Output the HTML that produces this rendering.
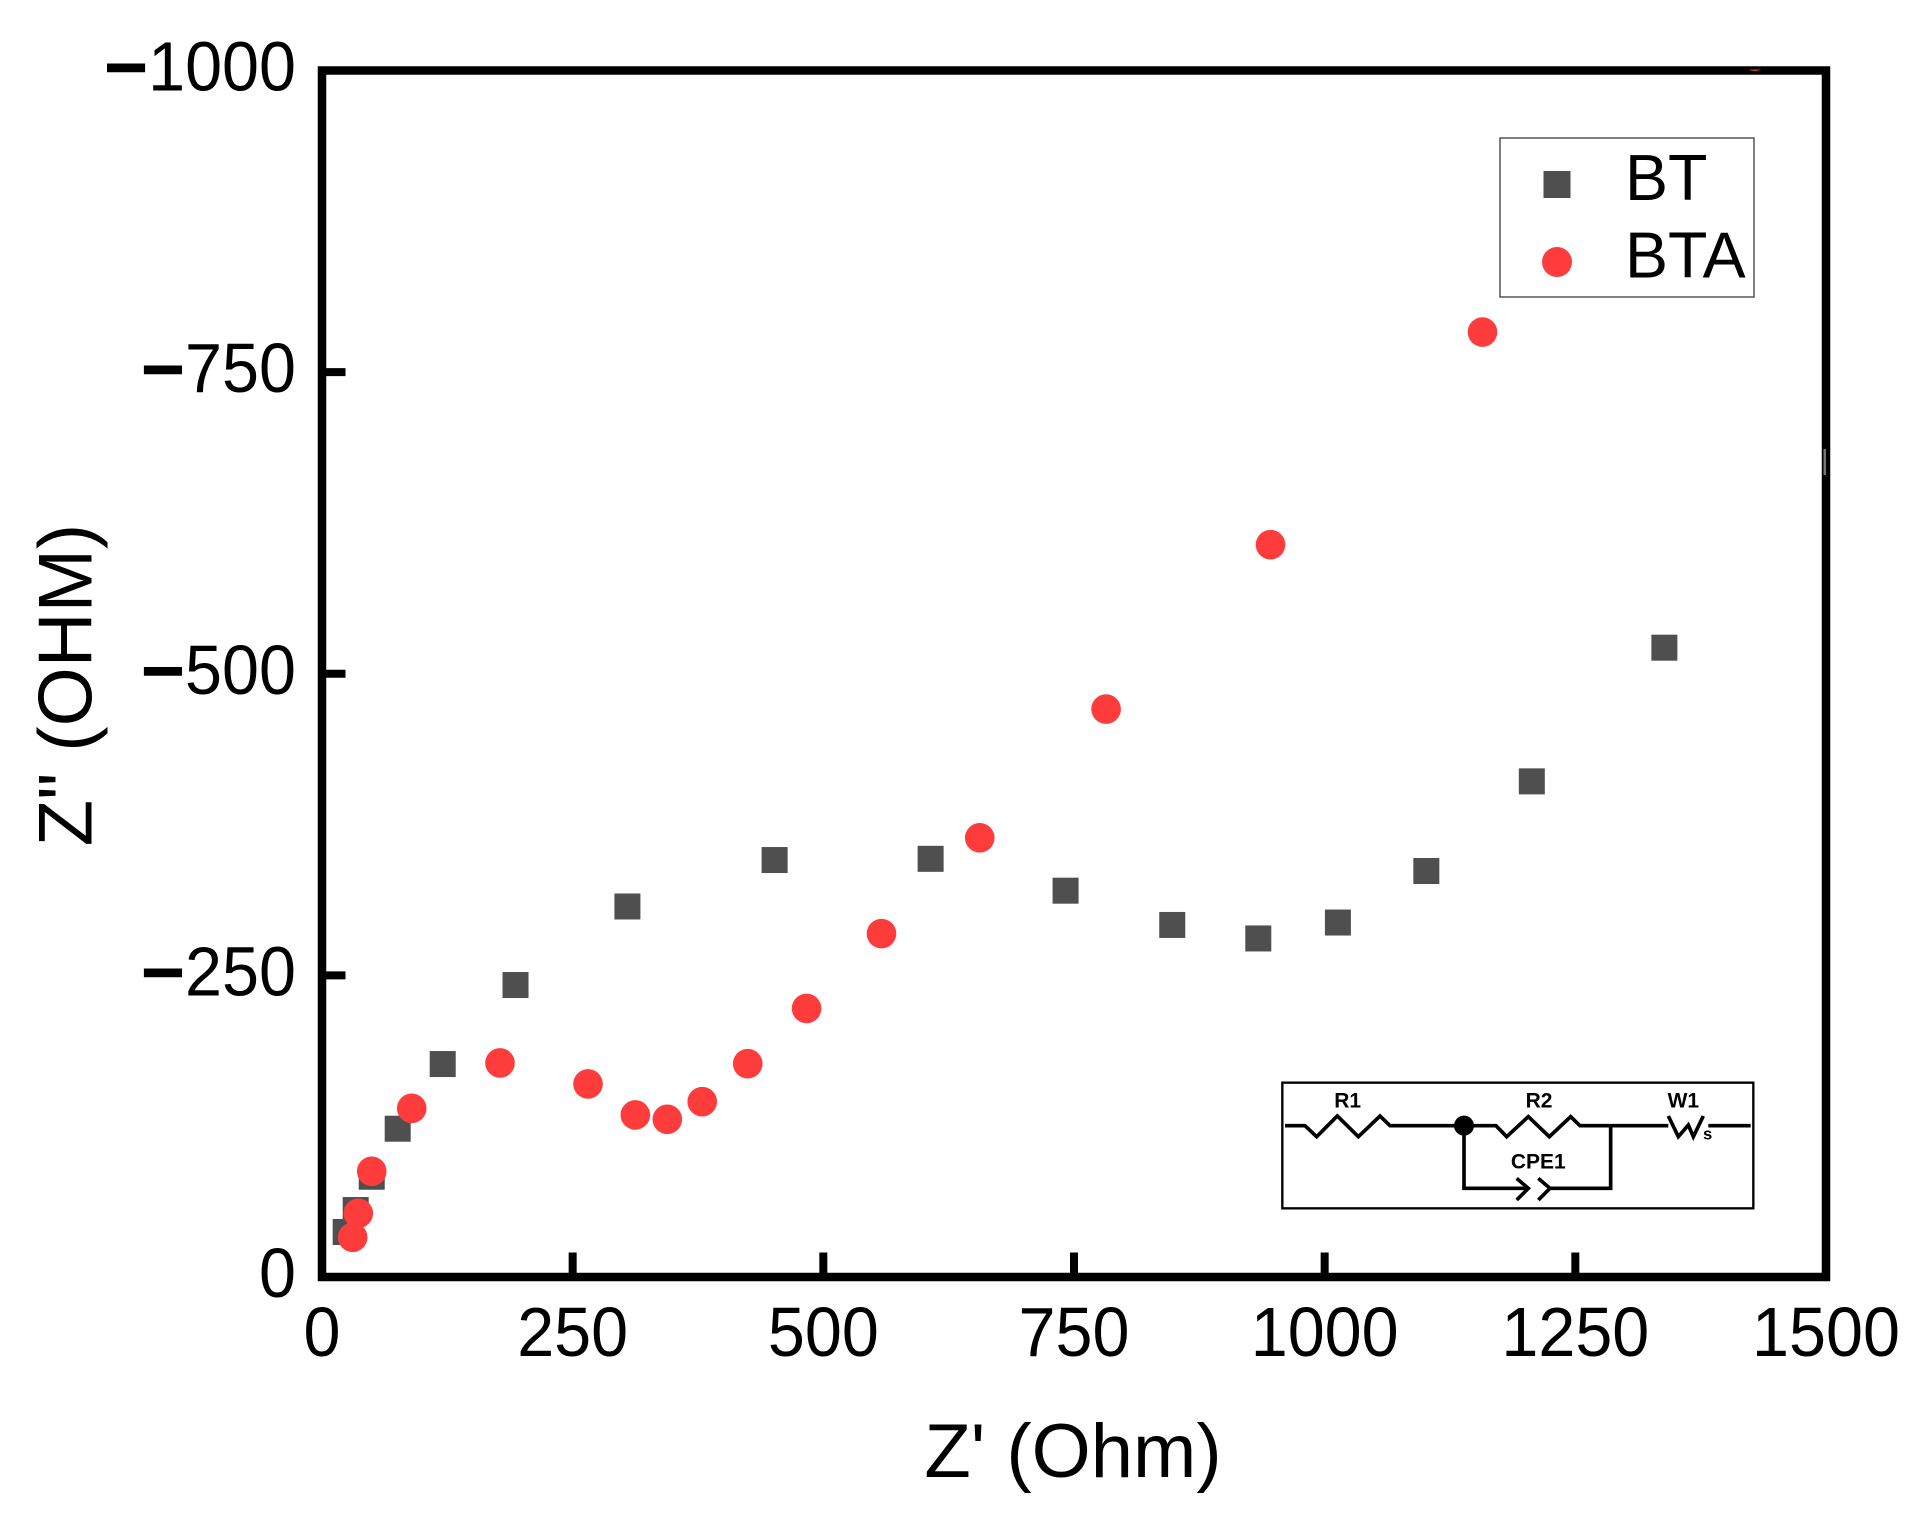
<!DOCTYPE html>
<html lang="en">
<head>
<meta charset="utf-8">
<title>Nyquist plot BT and BTA</title>
<style>
html,body{margin:0;padding:0;background:#fff;}
svg{display:block;}
text{font-family:"Liberation Sans",sans-serif;fill:#000;}
</style>
</head>
<body>
<svg id="chart" xmlns="http://www.w3.org/2000/svg" width="1924" height="1517" viewBox="0 0 1924 1517">
  <defs>
    <clipPath id="plot-clip"><rect x="318" y="69.5" width="1512" height="1212"/></clipPath>
  </defs>
  <rect x="0" y="0" width="1924" height="1517" fill="#fff"/>
  <g id="ticks"></g>
  <rect x="322" y="70.5" width="1504" height="1206.5" fill="none" stroke="#000" stroke-width="8.5"/>
  <rect x="1823.5" y="449" width="2.5" height="26" fill="#777"/>
  <g id="tick-labels"></g>
  <g id="marks" clip-path="url(#plot-clip)"></g>

  <text x="1073" y="1477" font-size="76" text-anchor="middle">Z' (Ohm)</text>
  <text transform="translate(91.5,685) rotate(-90)" font-size="76" text-anchor="middle">Z" (OHM)</text>

  <g>
    <rect x="1500" y="138" width="254" height="159" fill="#fff" stroke="#555" stroke-width="1.5"/>
    <rect x="1543.5" y="171" width="27" height="27" fill="#4f4f4f"/>
    <text x="1625" y="200" font-size="64.5">BT</text>
    <circle cx="1557" cy="262" r="15" fill="#ff3c3c"/>
    <text x="1625" y="277.5" font-size="64.5">BTA</text>
  </g>

  <g transform="translate(1260,1060) scale(0.33333)">
    <rect x="67" y="68" width="1413" height="377" fill="#fff" stroke="#000" stroke-width="7"/>
    <g fill="none" stroke="#000" stroke-width="11" stroke-linejoin="miter">
      <polyline points="75,197 135,197 170,230 232,168 295,230 360,168 390,197 612,197"/>
      <polyline points="612,197 708,197 740,230 805,170 868,230 932,170 960,197 1225,197"/>
      <polyline points="612,197 612,385 805,385"/>
      <polyline points="1052,197 1052,385 868,385"/>
      <polyline points="770,355 805,385 770,420"/>
      <polyline points="835,355 870,385 835,420"/>
      <polyline points="1225,168 1255,230 1285,195 1300,230 1330,168"/>
      <line x1="1345" y1="197" x2="1472" y2="197"/>
    </g>
    <circle cx="612" cy="197" r="30" fill="#000"/>
    <g font-weight="bold" font-size="63" text-anchor="middle">
      <text x="263" y="142">R1</text>
      <text x="837" y="142">R2</text>
      <text x="1270" y="142">W1</text>
      <text x="835" y="326">CPE1</text>
    </g>
    <text x="1343" y="238" font-size="50" font-weight="bold" text-anchor="middle">s</text>
  </g>
</svg>

<script>
const xTicks = [0, 250, 500, 750, 1000, 1250, 1500];
const yTicks = [0, -250, -500, -750, -1000];

const btZre = [23.6, 33.6, 49.6, 75.5, 120.4, 193, 304.6, 451.4, 607, 741.6, 848, 933.8, 1013.2, 1101.4, 1206.6, 1338.8];
const btZim = [-37.3, -55.5, -83.1, -122.9, -176.5, -242, -307.1, -345.6, -346.6, -320.2, -291.8, -280.6, -293.8, -336.5, -410.8, -521.6];

const btaZre = [30.6, 36.2, 49.6, 89.5, 177.5, 265.3, 312.5, 344.4, 379.2, 424.6, 483.3, 558, 656, 782, 946, 1157.4, 1429];
const btaZim = [-32.9, -52.8, -87.6, -139.8, -177.4, -160, -134.3, -130.7, -145.3, -176.8, -222.6, -284.6, -364, -470.7, -607, -783.2, -1012];

const NS = 'http://www.w3.org/2000/svg';
function xScale(v) { return 322 + v * (1826 - 322) / 1500; }
function yScale(v) { return 1277 + v * (1277 - 70.5) / 1000; }
function tag(name, parent) {
  const el = document.createElementNS(NS, name);
  parent.appendChild(el);
  return el;
}

const tickGroup = document.getElementById('ticks');
const labelGroup = document.getElementById('tick-labels');
const markGroup = document.getElementById('marks');

xTicks.forEach(function (v) {
  const px = xScale(v);
  if (v !== 0 && v !== 1500) {
    const t = tag('rect', tickGroup);
    
    
    t.setAttribute('x', px - 4);
    t.setAttribute('y', 1252.5);
    t.setAttribute('width', 8);
    t.setAttribute('height', 26);
    t.setAttribute('fill', '#000');
  }
  const l = tag('text', labelGroup);
  
  
  l.setAttribute('transform', 'translate(' + px + ',1356) scale(1,1.05)');
  l.setAttribute('font-size', '66.5');
  l.setAttribute('text-anchor', 'middle');
  l.textContent = String(v);
});

yTicks.forEach(function (v) {
  const py = yScale(v);
  if (v !== 0 && v !== -1000) {
    const t = tag('rect', tickGroup);
    
    
    t.setAttribute('x', 320);
    t.setAttribute('y', py - 4);
    t.setAttribute('width', 25.5);
    t.setAttribute('height', 8);
    t.setAttribute('fill', '#000');
  }
  const l = tag('text', labelGroup);
  
  
  l.setAttribute('transform', 'translate(296,' + (py + 20) + ') scale(1,1.05)');
  l.setAttribute('font-size', '66.5');
  l.setAttribute('text-anchor', 'end');
  if (v < 0) {
    const m = tag('tspan', l);
    
    
    m.setAttribute('font-weight', 'bold');
    m.setAttribute('font-size', '76');
    m.setAttribute('dy', '4');
    m.textContent = '\u2212';
    const d = tag('tspan', l);
    
    
    d.setAttribute('dy', '-4');
    d.textContent = String(Math.abs(v));
  } else {
    l.textContent = String(v);
  }
});

btZre.forEach(function (v, i) {
  const s = tag('rect', markGroup);
  
  
  s.setAttribute('x', xScale(v) - 13);
  s.setAttribute('y', yScale(btZim[i]) - 13);
  s.setAttribute('width', 26);
  s.setAttribute('height', 26);
  s.setAttribute('fill', '#4f4f4f');
});

btaZre.forEach(function (v, i) {
  const c = tag('circle', markGroup);
  
  
  c.setAttribute('cx', xScale(v));
  c.setAttribute('cy', yScale(btaZim[i]));
  c.setAttribute('r', 14.8);
  c.setAttribute('fill', '#ff3c3c');
});
</script>
</body>
</html>
